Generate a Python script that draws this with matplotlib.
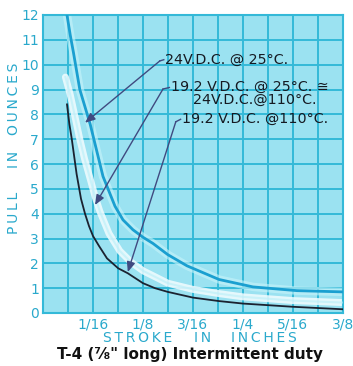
import matplotlib
matplotlib.use("Agg")
import matplotlib.pyplot as plt
import numpy as np

# Data (stroke in inches, pull in ounces)
x_top = [0.030, 0.034, 0.038, 0.046, 0.059, 0.075, 0.090, 0.100, 0.1125, 0.125, 0.1375, 0.156, 0.180, 0.220, 0.2625, 0.3175, 0.375]
y_top = [12.0, 11.2, 10.5, 9.0, 7.6, 5.5, 4.3, 3.75, 3.35, 3.05, 2.8, 2.35, 1.9, 1.35, 1.05, 0.9, 0.85]

x_mid = [0.028, 0.034, 0.040, 0.046, 0.052, 0.059, 0.065, 0.071, 0.0825, 0.096, 0.110, 0.125, 0.1375, 0.156, 0.1875, 0.220, 0.250, 0.3125, 0.375]
y_mid = [9.5, 8.8, 7.9, 7.0, 6.2, 5.4, 4.7, 4.1, 3.2, 2.5, 2.05, 1.7, 1.5, 1.2, 0.95, 0.78, 0.65, 0.5, 0.42]

x_bot = [0.030, 0.033, 0.036, 0.042, 0.0475, 0.0525, 0.0575, 0.0625, 0.070, 0.080, 0.094, 0.106, 0.125, 0.140, 0.156, 0.1875, 0.220, 0.250, 0.3125, 0.375]
y_bot = [8.4, 7.6, 7.0, 5.6, 4.6, 4.0, 3.5, 3.1, 2.7, 2.2, 1.8, 1.6, 1.2, 1.0, 0.85, 0.62, 0.48, 0.38, 0.25, 0.15]

xtick_vals = [1/16, 1/8, 3/16, 1/4, 5/16, 3/8]
xtick_labels = ["1/16", "1/8", "3/16", "1/4", "5/16", "3/8"]
ytick_vals = list(range(0, 13))

labels = ["24V.D.C. @ 25°C.", "19.2 V.D.C. @ 25°C. ≅", "24V.D.C.@110°C.", "19.2 V.D.C. @110°C."]

CYAN_TXT = "#2aa9cc"
BG = "#9be2f1"
GRID = "#34b9d8"
TS = "\u2009"  # thin space for letter spacing


def spaced(word):
    return TS.join(word)


fig = plt.figure(figsize=(3.53, 3.66), dpi=100)
ax = fig.add_axes([43/353, 53/366, 300/353, 298/366])
ax.set_facecolor(BG)
ax.set_xlim(0, 0.375)
ax.set_ylim(0, 12)

# grid
for gx in np.arange(0, 0.376, 1/32):
    ax.axvline(gx, color=GRID, lw=1.4, zorder=1)
for gy in ytick_vals:
    ax.axhline(gy, color=GRID, lw=1.4, zorder=1)

# curves
ax.plot(x_top, y_top, color="#c8f4fb", lw=6, alpha=0.6, zorder=2, solid_capstyle="round")
ax.plot(x_top, y_top, color="#1a9fd0", lw=2.0, zorder=3)
ax.plot(x_mid, y_mid, color="#f2fcff", lw=5, alpha=0.85, zorder=2, solid_capstyle="round")
ax.plot(x_mid, y_mid, color="#b8eef8", lw=1.5, alpha=0.6, zorder=3)
ax.plot(x_bot, y_bot, color="#1b2230", lw=1.3, zorder=4)

# annotations
arrow_col = "#404a80"
ann = [((0.0525, 7.66), (0.146, 10.15), (0.151, 10.2)),
       ((0.065, 4.35), (0.150, 9.02), (0.158, 9.08)),
       ((0.106, 1.65), (0.166, 7.70), (0.172, 7.80))]
for tip, elbow, tstart in ann:
    ax.annotate("", xy=tip, xytext=elbow,
                arrowprops=dict(arrowstyle="-|>,head_length=0.6,head_width=0.25",
                                color=arrow_col, lw=1.0, shrinkA=0, shrinkB=0), zorder=5)
    ax.plot([elbow[0], tstart[0]], [elbow[1], tstart[1]], color=arrow_col, lw=1.0, zorder=5)

tk = dict(fontsize=10.3, color="#151a22", va="center", ha="left", zorder=6)
ax.text(0.1525, 10.2, labels[0], **tk)
ax.text(0.160, 9.1, labels[1], **tk)
ax.text(0.188, 8.58, labels[2], **tk)
ax.text(0.174, 7.80, labels[3], **tk)

# ticks
ax.set_xticks(xtick_vals)
ax.set_xticklabels(xtick_labels)
ax.set_yticks(ytick_vals)
ax.set_yticklabels([str(v) for v in ytick_vals])
ax.tick_params(length=0, colors=CYAN_TXT, labelsize=10, pad=3)
for s in ax.spines.values():
    s.set_color(GRID)
    s.set_linewidth(1.5)

# axis titles (word by word, letter-spaced)
for word, px in [("STROKE", 138), ("IN", 203), ("INCHES", 264)]:
    fig.text(px/353, 1 - 338/366, spaced(word), color=CYAN_TXT, fontsize=10,
             ha="center", va="center")
for word, py in [("PULL", 213), ("IN", 159), ("OUNCES", 99)]:
    fig.text(14/353, 1 - py/366, spaced(word), color=CYAN_TXT, fontsize=10,
             ha="center", va="center", rotation=90)
fig.text(190/353, 1 - 355/366, "T-4 (⅞\" long) Intermittent duty", color="#111111",
         fontsize=11, ha="center", va="center", fontweight="bold")

fig.savefig("out.png", dpi=100, facecolor="white")
